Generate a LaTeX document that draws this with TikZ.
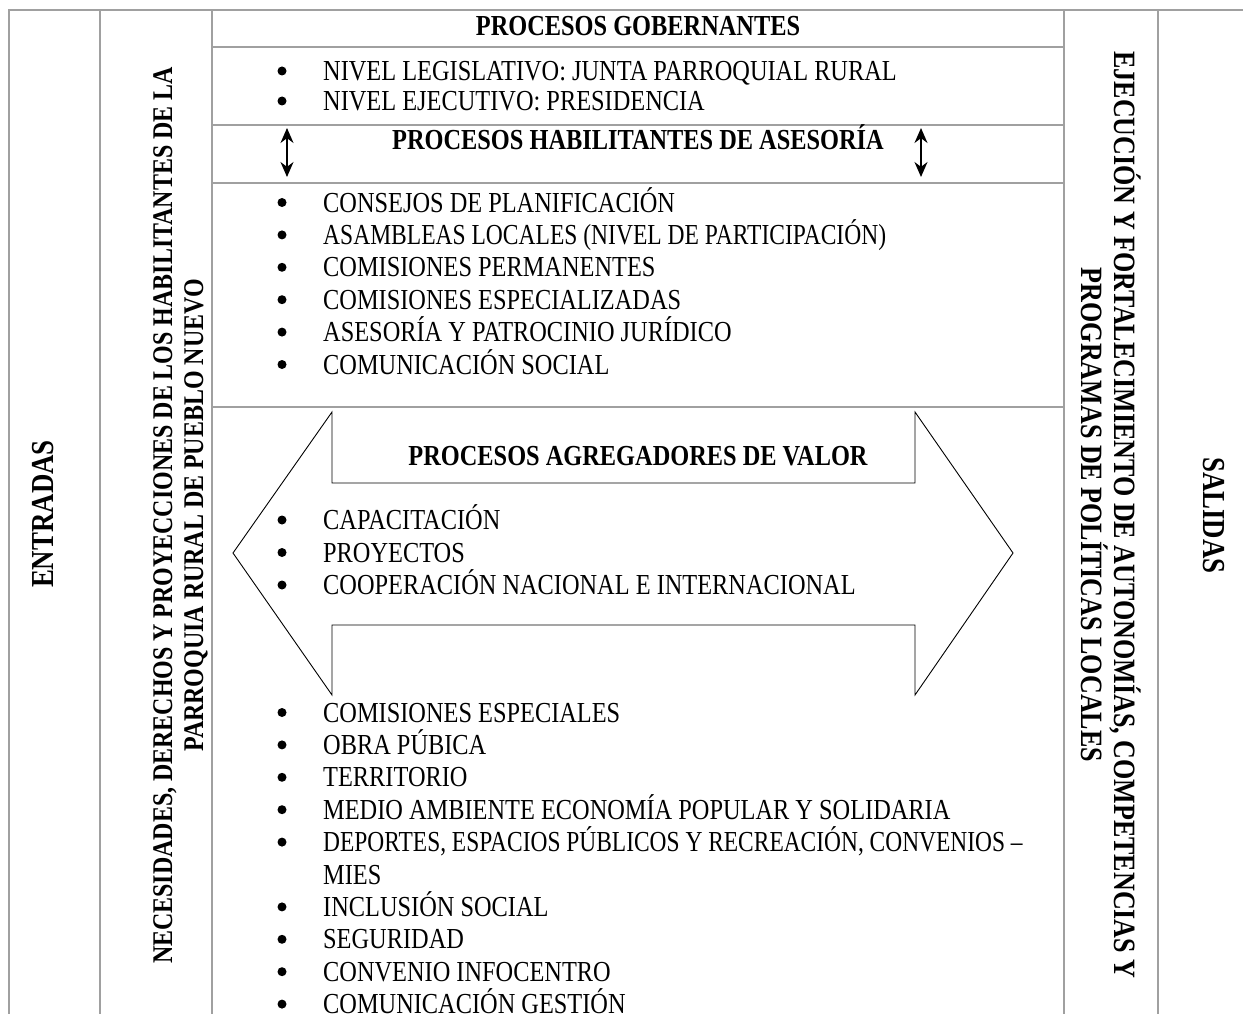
\documentclass[tikz,border=0pt]{standalone}
\usepackage{graphicx}
\usepackage{fontspec}
\setmainfont{Liberation Serif}[FakeStretch=0.84]
\usetikzlibrary{arrows.meta}
\definecolor{gridgray}{HTML}{A0A0A0}
\tikzset{
  gridline/.style={draw=gridgray,line width=1.8pt},
  txt/.style={inner sep=0pt,font=\fontsize{29}{32.4}\selectfont},
  head/.style={inner sep=0pt,font=\fontsize{29}{32.4}\selectfont\bfseries,anchor=base},
  itemtxt/.style={txt,anchor=base west},
  dot/.style={circle,fill=black,inner sep=0pt,minimum size=9pt},
  vlab/.style={inner sep=0pt,font=\fontsize{28.5}{32.4}\selectfont\bfseries,anchor=base},
  rlab/.style={inner sep=0pt,font=\fontsize{31}{34}\selectfont\bfseries,anchor=base},
  biglab/.style={inner sep=0pt,font=\fontsize{32}{36}\selectfont\bfseries,anchor=base},
  bigarrow/.style={draw=black,line width=0.9pt,fill=white,line join=miter},
  dblarrow/.style={{Stealth[length=15pt,width=13pt]}-{Stealth[length=15pt,width=13pt]},line width=1.6pt}
}
\newcommand{\bitem}[3]{%
  \node[dot] (d#1) at (282,{#2-9.5}) {};
  \node[itemtxt] (t#1) at (323,#2) {#3};}
\begin{document}
\begin{tikzpicture}[x=1pt,y=-1pt]
\useasboundingbox (0,0) rectangle (1243,1014);
% table grid
\draw[gridline] (9,1014) -- (9,10) -- (1243,10);
\draw[gridline] (100,10) -- (100,1014);
\draw[gridline] (212,10) -- (212,1014);
\draw[gridline] (1064,10) -- (1064,1014);
\draw[gridline] (1158,10) -- (1158,1014);
\foreach \yy in {47,125,183,407} \draw[gridline] (212,\yy) -- (1064,\yy);
% big double arrow
\draw[bigarrow] (233,553) -- (332,412) -- (332,483) -- (915,483) -- (915,412)
  -- (1013,553) -- (915,695) -- (915,625) -- (332,625) -- (332,695) -- cycle;
% headings
\node[head] (gob) at (638,36) {PROCESOS GOBERNANTES};
\node[head] (hab) at (638,149.5) {PROCESOS HABILITANTES DE ASESORÍA};
\node[head] (agr) at (638,465) {PROCESOS AGREGADORES DE VALOR};
% double arrows
\coordinate (la1) at (287,128); \coordinate (la2) at (287,177);
\coordinate (ra1) at (921,128); \coordinate (ra2) at (921,177);
\draw[dblarrow] (la1) -- (la2);
\draw[dblarrow] (ra1) -- (ra2);
% items
\bitem{a}{80.5}{NIVEL LEGISLATIVO: JUNTA PARROQUIAL RURAL}
\bitem{b}{110.5}{NIVEL EJECUTIVO: PRESIDENCIA}
\bitem{c}{212}{CONSEJOS DE PLANIFICACIÓN}
\bitem{d}{244.4}{\scalebox{0.966}[1]{ASAMBLEAS LOCALES (NIVEL DE PARTICIPACIÓN)}}
\bitem{e}{276.8}{COMISIONES PERMANENTES}
\bitem{f}{309.2}{COMISIONES ESPECIALIZADAS}
\bitem{g}{341.6}{ASESORÍA Y PATROCINIO JURÍDICO}
\bitem{h}{374}{COMUNICACIÓN SOCIAL}
\bitem{i}{529.5}{CAPACITACIÓN}
\bitem{j}{562}{PROYECTOS}
\bitem{k}{594.5}{COOPERACIÓN NACIONAL E INTERNACIONAL}
\bitem{l}{722}{COMISIONES ESPECIALES}
\bitem{m}{754.4}{OBRA PÚBICA}
\bitem{n}{786.8}{TERRITORIO}
\bitem{o}{819.2}{MEDIO AMBIENTE ECONOMÍA POPULAR Y SOLIDARIA}
\bitem{p}{851.6}{\scalebox{0.962}[1]{DEPORTES, ESPACIOS PÚBLICOS Y RECREACIÓN, CONVENIOS –}}
\node[itemtxt] (tp2) at (323,884) {MIES};
\bitem{q}{916.4}{INCLUSIÓN SOCIAL}
\bitem{r}{948.8}{SEGURIDAD}
\bitem{s}{981.2}{CONVENIO INFOCENTRO}
\bitem{t}{1013.6}{COMUNICACIÓN GESTIÓN}
% vertical labels
\node[biglab,rotate=90] (ent) at (53,514) {ENTRADAS};
\node[vlab,rotate=90] (nec1) at (172,515.5) {NECESIDADES, DERECHOS Y PROYECCIONES DE LOS HABILITANTES DE LA};
\node[vlab,rotate=90] (nec2) at (203,515.5) {PARROQUIA RURAL DE PUEBLO NUEVO};
\node[rlab,rotate=-90] (eje1) at (1114,515) {EJECUCIÓN Y FORTALECIMIENTO DE AUTONOMÍAS, COMPETENCIAS Y};
\node[rlab,rotate=-90] (eje2) at (1081,515) {PROGRAMAS DE POLÍTICAS LOCALES};
\node[biglab,rotate=-90] (sal) at (1203,515.5) {SALIDAS};
\end{tikzpicture}
\end{document}
